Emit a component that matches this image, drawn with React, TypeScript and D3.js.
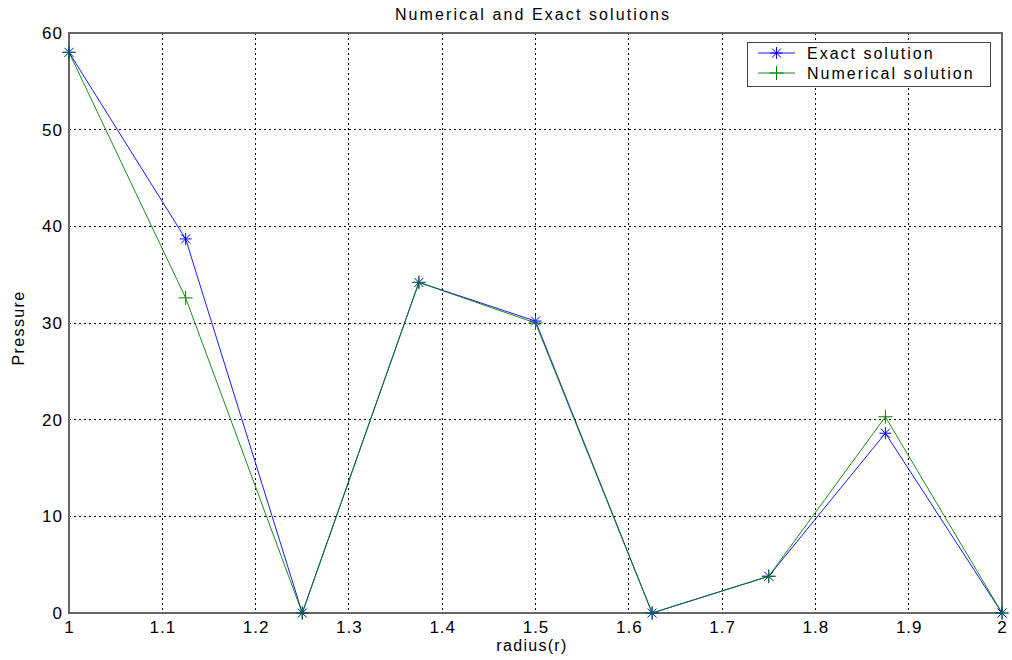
import React from "react";
import * as d3 from "d3";

const radius = [1, 1.125, 1.25, 1.375, 1.5, 1.625, 1.75, 1.875, 2];
const exact = [58, 38.7, 0, 34.2, 30.2, 0, 3.8, 18.6, 0];
const numerical = [58, 32.6, 0, 34.2, 30.0, 0, 3.8, 20.3, 0];
const xTicks = [1, 1.1, 1.2, 1.3, 1.4, 1.5, 1.6, 1.7, 1.8, 1.9, 2];
const yTicks = [0, 10, 20, 30, 40, 50, 60];
const title = "Numerical and Exact solutions";
const xLabel = "radius(r)";
const yLabel = "Pressure";
const seriesNames = ["Exact solution", "Numerical solution"];

const W = 1012, H = 660;
const L = 69, R = 1002, T = 33, B = 613;
const FONT = "Liberation Sans, Arial, sans-serif";

export default function App() {
  const x = d3.scaleLinear().domain([1, 2]).range([L, R]);
  const y = d3.scaleLinear().domain([0, 60]).range([B, T]);
  const line = d3.line<number>().x((_, i) => x(radius[i])).y((d) => y(d));
  const blue = "#0000ff";
  const green = "#008000";
  const star = (cx: number, cy: number, c: string, k: string) => (
    <g key={k} stroke={c} strokeWidth={1}>
      <line x1={cx - 6} x2={cx + 6} y1={cy} y2={cy} />
      <line x1={cx} x2={cx} y1={cy - 6} y2={cy + 6} />
      <line x1={cx - 4.5} x2={cx + 4.5} y1={cy - 4.5} y2={cy + 4.5} />
      <line x1={cx - 4.5} x2={cx + 4.5} y1={cy + 4.5} y2={cy - 4.5} />
    </g>
  );
  const plus = (cx: number, cy: number, c: string, k: string) => (
    <g key={k} stroke={c} strokeWidth={1}>
      <line x1={cx - 7} x2={cx + 7} y1={cy} y2={cy} />
      <line x1={cx} x2={cx} y1={cy - 7} y2={cy + 7} />
    </g>
  );
  const lgX = 747, lgY = 42, lgW = 243, lgH = 44;
  const tickLS = 1;
  return (
    <svg width={W} height={H} style={{ position: "absolute", left: 0, top: 0, background: "#fff" }} fontFamily={FONT}>
      <rect x={0} y={0} width={W} height={H} fill="#fff" />
      {xTicks.slice(1, -1).map((t) => (
        <line key={"gx" + t} x1={x(t)} x2={x(t)} y1={T} y2={B} stroke="#000" strokeWidth={1} strokeDasharray="2,3" shapeRendering="crispEdges" />
      ))}
      {yTicks.slice(1, -1).map((t) => (
        <line key={"gy" + t} x1={L} x2={R} y1={y(t)} y2={y(t)} stroke="#000" strokeWidth={1} strokeDasharray="2,3" shapeRendering="crispEdges" />
      ))}
      <rect x={L} y={T} width={R - L} height={B - T} fill="none" stroke="#666" strokeWidth={1.5} shapeRendering="crispEdges" />
      {xTicks.map((t) => (
        <text key={"xt" + t} x={x(t) + tickLS / 2} y={B + 20} textAnchor="middle" fontSize={17} letterSpacing={tickLS} fill="#000">{d3.format("")(t)}</text>
      ))}
      {yTicks.map((t) => (
        <text key={"yt" + t} x={L - 7 + tickLS} y={y(t) + 6} textAnchor="end" fontSize={17} letterSpacing={tickLS} fill="#000">{t}</text>
      ))}
      <text x={533} y={20} textAnchor="middle" fontSize={16} letterSpacing={2.1} fill="#000">{title}</text>
      <text x={532} y={651} textAnchor="middle" fontSize={16} letterSpacing={1.3} fill="#000">{xLabel}</text>
      <text transform={`translate(24,328) rotate(-90)`} textAnchor="middle" fontSize={16} letterSpacing={1.4} fill="#000">{yLabel}</text>
      <path d={line(exact) || ""} fill="none" stroke={blue} strokeWidth={0.9} />
      <path d={line(numerical) || ""} fill="none" stroke={green} strokeWidth={0.9} />
      {exact.map((v, i) => star(x(radius[i]), y(v), blue, "s" + i))}
      {numerical.map((v, i) => plus(x(radius[i]), y(v), green, "p" + i))}
      <rect x={lgX} y={lgY} width={lgW} height={lgH} fill="#fff" stroke="#444" strokeWidth={1} shapeRendering="crispEdges" />
      <line x1={758} x2={795} y1={53} y2={53} stroke={blue} strokeWidth={0.9} />
      {star(776.5, 53, blue, "ls")}
      <line x1={758} x2={795} y1={73} y2={73} stroke={green} strokeWidth={0.9} />
      {plus(776.5, 73, green, "lp")}
      <text x={807} y={59} fontSize={16} letterSpacing={2} fill="#000">{seriesNames[0]}</text>
      <text x={807} y={79} fontSize={16} letterSpacing={2} fill="#000">{seriesNames[1]}</text>
    </svg>
  );
}
